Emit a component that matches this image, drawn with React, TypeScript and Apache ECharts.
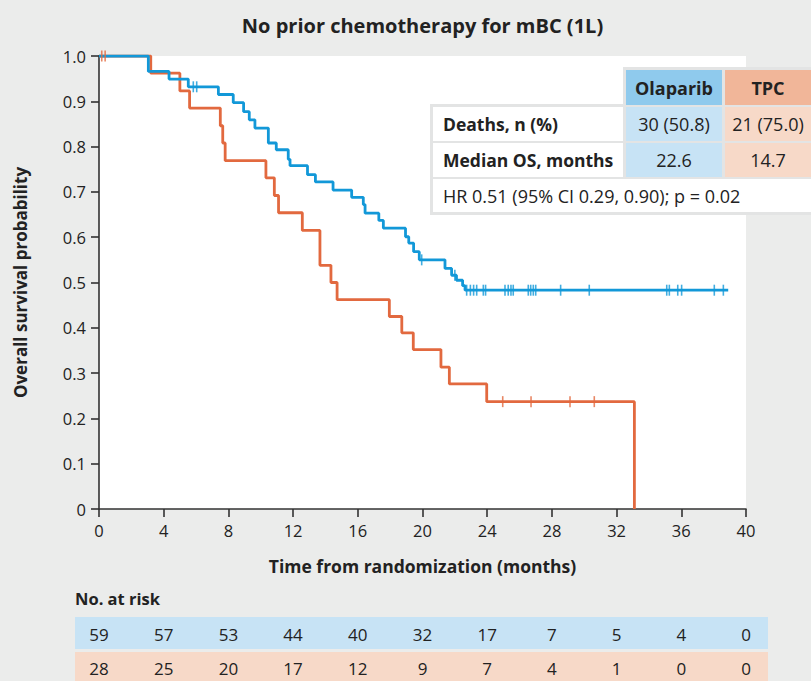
import React, { useEffect, useRef } from "react";
import * as echarts from "echarts";

// ---------- data ----------
const xTicks = [0, 4, 8, 12, 16, 20, 24, 28, 32, 36, 40];

const olaTimes = [0, 3.05, 4.33, 5.52, 7.38, 8.3, 8.94, 9.29, 9.64, 10.47, 10.96, 11.7, 11.81, 12.89, 13.38, 14.47, 15.62, 16.34, 16.45, 17.3, 17.58, 18.95, 19.15, 19.45, 19.8, 21.39, 21.8, 22.1, 22.48, 22.63, 38.9];
const olaSurv = [1.0, 0.966, 0.949, 0.932, 0.915, 0.897, 0.877, 0.859, 0.841, 0.808, 0.793, 0.772, 0.758, 0.738, 0.722, 0.704, 0.688, 0.672, 0.653, 0.637, 0.62, 0.601, 0.587, 0.568, 0.55, 0.531, 0.516, 0.505, 0.493, 0.483, 0.483];
const olaCensor = [5.83, 6.04, 19.95, 22.0, 22.73, 22.96, 23.16, 23.35, 23.76, 23.9, 25.1, 25.3, 25.47, 25.61, 26.54, 26.69, 26.85, 27.0, 28.54, 30.31, 35.1, 35.26, 35.78, 36.02, 38.04, 38.6];

const tpcTimes = [0, 3.2, 5.0, 5.6, 7.5, 7.65, 7.8, 10.32, 10.84, 11.1, 12.57, 13.66, 14.34, 14.72, 17.95, 18.72, 19.43, 21.14, 21.66, 23.97, 33.1];
const tpcSurv = [1.0, 0.962, 0.923, 0.885, 0.846, 0.808, 0.769, 0.731, 0.692, 0.654, 0.615, 0.538, 0.5, 0.462, 0.425, 0.389, 0.352, 0.313, 0.276, 0.237, 0];
const tpcCensor = [0.17, 0.38, 24.96, 26.71, 29.12, 30.62];

const olaRisk = [59, 57, 53, 44, 40, 32, 17, 7, 5, 4, 0];
const tpcRisk = [28, 25, 20, 17, 12, 9, 7, 4, 1, 0, 0];

const groupNames = ["Olaparib", "TPC"];
const rowLabels = ["Deaths, n (%)", "Median OS, months"];
const olaStats = ["30 (50.8)", "22.6"];
const tpcStats = ["21 (75.0)", "14.7"];
const hrText = "HR 0.51 (95% CI 0.29, 0.90); p = 0.02";

// ---------- styles ----------
const BG = "#ebeceb";
const BLUE = "#1298d8";
const ORANGE = "#e2693f";
const BLUE_HEAD = "#8fcaed";
const ORANGE_HEAD = "#f1b699";
const BLUE_LIGHT = "#c7e3f5";
const ORANGE_LIGHT = "#f7d9c8";
const BORDER = "#e3e4e4";
const TXT = "#222222";
const SANS = "'Open Sans', 'Noto Sans', sans-serif";

function survAt(times: number[], surv: number[], t: number) {
  let s = surv[0];
  for (let i = 0; i < times.length; i++) if (times[i] <= t) s = surv[i];
  return s;
}

export default function App() {
  const ref = useRef<HTMLDivElement>(null);
  useEffect(() => {
    document.body.style.margin = "0";
    if (!ref.current) return;
    const chart = echarts.init(ref.current, undefined, { renderer: "svg" });
    const option: any = {
      animation: false,
      backgroundColor: BG,
      grid: {
        left: 99,
        right: 65,
        top: 56,
        bottom: 172,
        show: true,
        backgroundColor: "#ffffff",
        borderWidth: 0,
      },
      xAxis: {
        type: "value",
        min: 0,
        max: 40,
        interval: 4,
        name: "Time from randomization (months)",
        nameLocation: "middle",
        nameGap: 48,
        nameTextStyle: { fontFamily: SANS, fontWeight: "bold", fontSize: 17.5, color: TXT },
        axisLine: { show: true, lineStyle: { color: "#333", width: 1.6 } },
        axisTick: { show: true, length: 8, inside: false, lineStyle: { color: "#333", width: 1.6 } },
        axisLabel: { fontFamily: SANS, fontSize: 16.5, color: TXT, margin: 13 },
        splitLine: { show: false },
      },
      yAxis: {
        type: "value",
        min: 0,
        max: 1,
        interval: 0.1,
        name: "Overall survival probability",
        nameLocation: "middle",
        nameRotate: 90,
        nameGap: 70,
        nameTextStyle: { fontFamily: SANS, fontWeight: "bold", fontSize: 17, color: TXT },
        axisLine: { show: true, lineStyle: { color: "#333", width: 1.6 } },
        axisTick: { show: true, length: 8, inside: false, lineStyle: { color: "#333", width: 1.6 } },
        axisLabel: {
          fontFamily: SANS,
          fontSize: 16.5,
          color: TXT,
          margin: 13,
          formatter: (v: number) => (v === 0 ? "0" : v.toFixed(1)),
        },
        splitLine: { show: false },
      },
      series: [
        {
          name: "TPC",
          type: "line",
          step: "end",
          symbol: "none",
          data: tpcTimes.map((t, i) => [t, tpcSurv[i]]),
          lineStyle: { color: ORANGE, width: 2.8 },
          z: 2,
        },
        {
          name: "Olaparib",
          type: "line",
          step: "end",
          symbol: "none",
          data: olaTimes.map((t, i) => [t, olaSurv[i]]),
          lineStyle: { color: BLUE, width: 2.8 },
          z: 3,
        },
        {
          name: "Olaparib censored",
          type: "scatter",
          symbol: "rect",
          symbolSize: [1.6, 11],
          data: olaCensor.map((t) => [t, survAt(olaTimes, olaSurv, t)]),
          itemStyle: { color: BLUE },
          z: 4,
        },
        {
          name: "TPC censored",
          type: "scatter",
          symbol: "rect",
          symbolSize: [1.6, 11],
          data: tpcCensor.map((t) => [t, survAt(tpcTimes, tpcSurv, t)]),
          itemStyle: { color: ORANGE },
          z: 5,
        },
      ],
    };
    chart.setOption(option);

    const px = (t: number) => chart.convertToPixel({ xAxisIndex: 0 }, t) as number;
    const plotLeft = px(0);
    const plotRight = px(40);
    const els: any[] = [];
    const text = (t: string, x: number, y: number, opts: any = {}) => {
      els.push({
        type: "text",
        z: 100,
        style: {
          text: t,
          x,
          y,
          fill: TXT,
          fontFamily: SANS,
          fontSize: opts.size || 18,
          fontWeight: opts.bold ? "bold" : "normal",
          textAlign: opts.align || "left",
          align: opts.align || "left",
          textVerticalAlign: "middle",
          verticalAlign: "middle",
        },
      });
    };
    const rect = (x: number, y: number, w: number, h: number, fill: string) => {
      els.push({ type: "rect", z: 90, shape: { x, y, width: w, height: h }, style: { fill } });
    };

    // title
    text("No prior chemotherapy for mBC (1L)", (plotLeft + plotRight) / 2, 25, {
      size: 20,
      bold: true,
      align: "center",
    });

    // stats table
    rect(623, 67, 188, 40, BORDER);
    rect(430, 104, 381, 111, BORDER);
    rect(626, 70, 96, 35, BLUE_HEAD);
    rect(725, 70, 90, 35, ORANGE_HEAD);
    const rowY = [107, 143];
    rowY.forEach((y, i) => {
      rect(433, y, 190, 34, "#ffffff");
      rect(626, y, 96, 34, BLUE_LIGHT);
      rect(725, y, 90, 34, ORANGE_LIGHT);
      text(rowLabels[i], 443, y + 17, { bold: true, size: 17.5 });
      text(olaStats[i], 674, y + 17, { align: "center", size: 18 });
      text(tpcStats[i], 768, y + 17, { align: "center", size: 18 });
    });
    rect(433, 179, 380, 33, "#ffffff");
    text(hrText, 443, 196, { size: 18 });
    text(groupNames[0], 674, 88, { bold: true, size: 18, align: "center" });
    text(groupNames[1], 768, 88, { bold: true, size: 18, align: "center" });

    // risk table
    text("No. at risk", 75, 598, { bold: true, size: 16.5 });
    rect(75, 617, 693, 32, BLUE_LIGHT);
    rect(75, 652, 693, 32, ORANGE_LIGHT);
    xTicks.forEach((t, i) => {
      const x = px(t);
      text(String(olaRisk[i]), x, 634, { size: 17, align: "center" });
      text(String(tpcRisk[i]), x, 668, { size: 17, align: "center" });
    });

    chart.setOption({ graphic: { elements: els } });
    return () => chart.dispose();
  }, []);
  return <div ref={ref} style={{ width: 811, height: 681 }} />;
}
